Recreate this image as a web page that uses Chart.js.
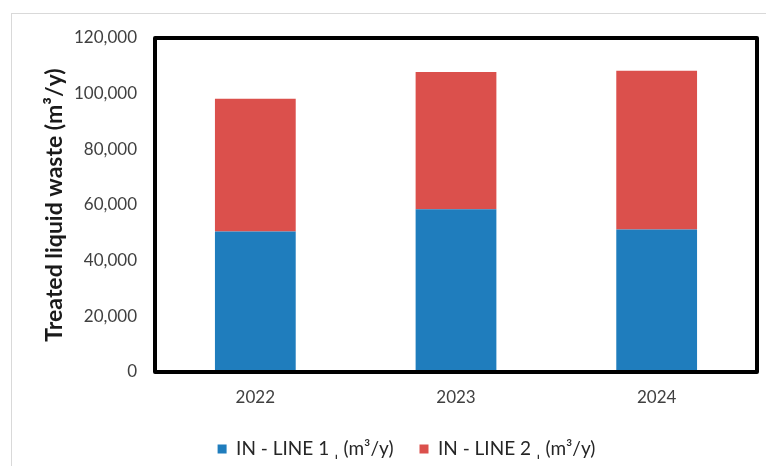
<!DOCTYPE html>
<html>
<head>
<meta charset="utf-8">
<script src="https://cdn.jsdelivr.net/npm/chart.js@4.4.1/dist/chart.umd.min.js"></script>
<style>
  html, body { margin: 0; padding: 0; background: #ffffff; }
  #wrap { width: 766px; height: 466px; }
</style>
</head>
<body>
<div id="wrap"><canvas id="c" width="766" height="466"></canvas></div>
<script>
// Treated liquid waste per treatment line, m³ per year
const years = ['2022', '2023', '2024'];
const line1 = [50500, 58500, 51200];
const line2 = [47700, 49300, 57000];
const seriesNames = ['IN - LINE 1 ˌ (m³/y)', 'IN - LINE 2 ˌ (m³/y)'];
const yMin = 0;
const yMax = 120000;
const yStep = 20000;

const FONT = 'Lato, "Noto Sans", sans-serif';

// light card outline behind the chart and heavy frame round the plot area
const framePlugin = {
  id: 'frame',
  beforeDraw(chart) {
    const ctx = chart.ctx;
    ctx.save();
    ctx.fillStyle = '#ffffff';
    ctx.fillRect(0, 0, chart.width, chart.height);
    ctx.strokeStyle = '#d9d9d9';
    ctx.lineWidth = 1;
    ctx.strokeRect(11.5, 13.5, chart.width + 20, chart.height + 20);
    ctx.restore();
  },
  afterDatasetsDraw(chart) {
    const a = chart.chartArea;
    const ctx = chart.ctx;
    ctx.save();
    ctx.strokeStyle = '#000000';
    ctx.lineWidth = 4;
    ctx.lineJoin = 'round';
    ctx.strokeRect(a.left, a.top, a.right - a.left, a.bottom - a.top);
    ctx.restore();
  }
};

// nudge the legend row so it sits under the middle of the plot
const legendShift = {
  id: 'legendShift',
  afterLayout(chart) {
    const l = chart.legend;
    if (l) { l.left += 28; l.right += 28; l.top += 4; l.bottom += 4; }
  }
};

new Chart(document.getElementById('c'), {
  type: 'bar',
  data: {
    labels: years,
    datasets: [
      { label: seriesNames[0], data: line1, backgroundColor: '#1f7dbd', borderWidth: 0,
        barPercentage: 0.5, categoryPercentage: 0.805 },
      { label: seriesNames[1], data: line2, backgroundColor: '#db504c', borderWidth: 0,
        barPercentage: 0.5, categoryPercentage: 0.805 }
    ]
  },
  options: {
    responsive: false,
    animation: false,
    devicePixelRatio: 1,
    layout: { padding: { top: 38, right: 9, left: 0, bottom: 1.5 } },
    plugins: {
      legend: {
        position: 'bottom',
        labels: {
          boxWidth: 9, boxHeight: 9, padding: 26,
          color: '#262626',
          font: { family: FONT, size: 19 }
        }
      },
      tooltip: { enabled: false }
    },
    scales: {
      x: {
        stacked: true,
        grid: { display: false, drawTicks: false },
        border: { display: false },
        ticks: { color: '#404040', padding: 15, font: { family: FONT, size: 17 } },
        afterFit(scale) { scale.height = 37.5; }
      },
      y: {
        stacked: true,
        min: yMin,
        max: yMax,
        grid: { display: false, drawTicks: false },
        border: { display: false },
        ticks: {
          stepSize: yStep,
          color: '#404040',
          padding: 18,
          font: { family: FONT, size: 17 },
          callback: v => Number(v).toLocaleString('en-US')
        },
        title: {
          display: true,
          text: 'Treated liquid waste (m³/y)',
          color: '#1a1a1a',
          padding: { top: 41, bottom: 0 },
          font: { family: FONT, size: 23, weight: 'bold' }
        },
        afterFit(scale) { scale.width = 155; }
      }
    }
  },
  plugins: [framePlugin, legendShift]
});
</script>
</body>
</html>
